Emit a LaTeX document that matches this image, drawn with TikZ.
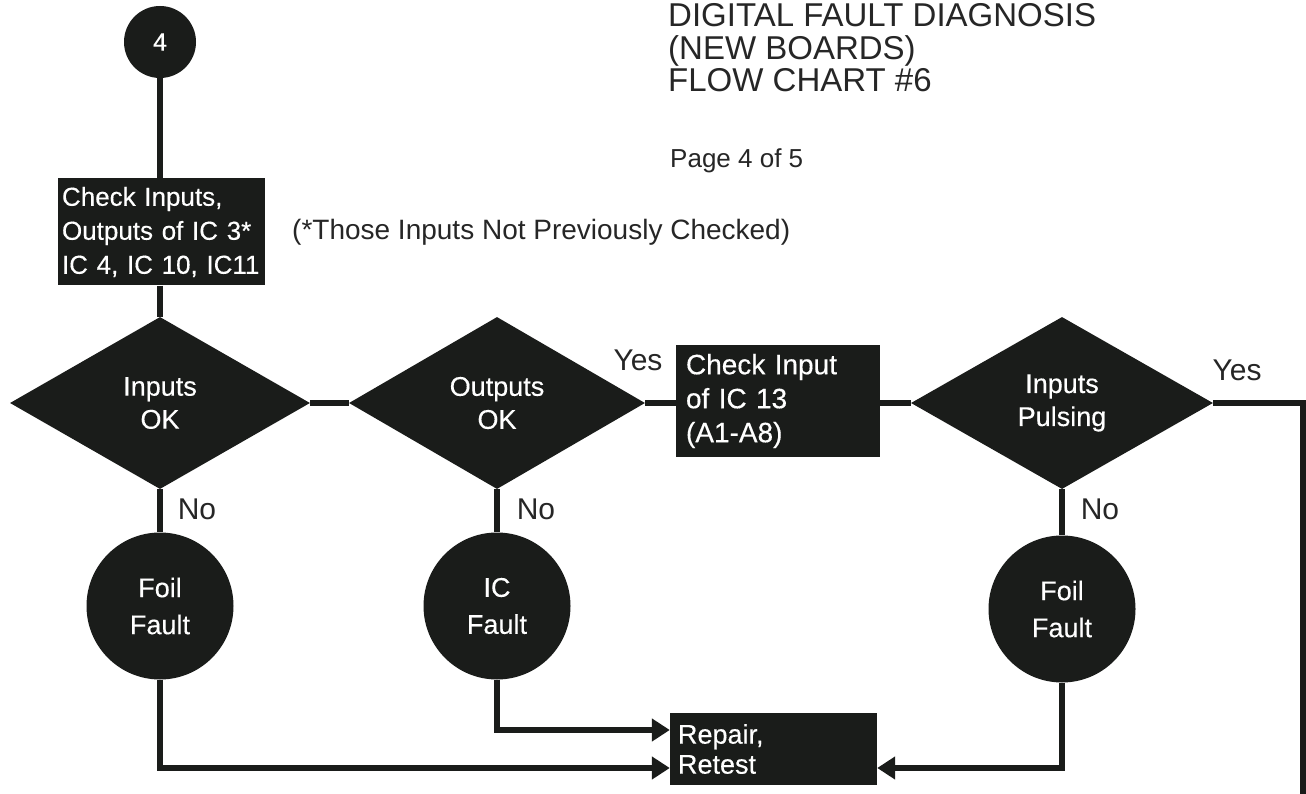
\documentclass[tikz,border=0pt]{standalone}
\usepackage{fontspec}
\setmainfont{Liberation Sans}
\newfontfamily\inkfont{Liberation Sans}[FakeBold=0.35]
\usetikzlibrary{shapes.geometric,arrows.meta,calc}
\definecolor{ink}{RGB}{26,28,26}
\definecolor{print}{RGB}{38,38,38}
\newcommand{\fs}[2]{\fontsize{#1}{#2}\selectfont}
\newcommand{\tightsp}{\spaceskip=3.5pt\relax}
\begin{document}
\begin{tikzpicture}[x=1pt,y=-1pt,
  box/.style={rectangle, fill=ink, text=white, inner sep=0pt, align=left},
  decision/.style={diamond, fill=ink, text=white, inner sep=0pt, align=center,
    minimum width=300pt, minimum height=172pt, font=\inkfont\fs{27}{33}},
  endpoint/.style={circle, fill=ink, text=white, inner sep=0pt, align=center,
    minimum size=147pt, font=\inkfont\fs{27}{37}},
  conn/.style={draw=ink, line width=6pt},
  arr/.style={conn, -{Triangle[length=18pt,width=22pt]}},
  answer/.style={text=print, inner sep=0pt, font=\fs{30}{32}},
  heading/.style={text=print, inner sep=0pt, anchor=base west},
]
\fill[white] (0,0) rectangle (1306,794);
\useasboundingbox (0,0) rectangle (1306,794);

% title block
\node[heading, font=\fs{33}{33}] (t1) at (668,27) {DIGITAL FAULT DIAGNOSIS};
\node[heading, font=\fs{33}{33}] (t2) at (668,60) {(NEW BOARDS)};
\node[heading, font=\fs{33}{33}] (t3) at (668,92) {FLOW CHART \#6};
\node[heading, font=\fs{26}{28}] (pg) at (670,168) {Page 4 of 5};
\node[heading, font=\fs{28}{30}] (note) at (292,240) {(*Those Inputs Not Previously Checked)};

% entry connector
\node[circle, fill=ink, text=white, inner sep=0pt, minimum size=72pt, font=\inkfont\fs{25}{28}] (c4) at (160,42) {4};

% process boxes
\node[box, minimum width=207pt, minimum height=107pt, text width=198pt,
      font=\inkfont\fs{26}{34}\tightsp] (chk1) at (161,232)
  {Check Inputs,\\Outputs of IC 3*\\IC 4, IC 10, IC11};
\node[box, minimum width=204pt, minimum height=112pt, text width=184pt, font=\inkfont\fs{28}{34}] (chk2) at (778,401)
  {Check Input\\of IC 13\\(A1-A8)};
\node[box, minimum width=207pt, minimum height=72pt, text width=191pt, font=\inkfont\fs{27}{30}] (rep) at (773.5,749)
  {Repair,\\Retest};

% decisions
\node[decision] (d1) at (160,403) {Inputs\\OK};
\node[decision, minimum width=296pt] (d2) at (497,403) {Outputs\\OK};
\node[decision, minimum width=302pt] (d3) at (1062,403) {Inputs\\Pulsing};

% terminal results
\node[endpoint] (f1) at (160,606) {Foil\\Fault};
\node[endpoint] (ic) at (497,606) {IC\\Fault};
\node[endpoint] (f3) at (1062,609) {Foil\\Fault};

% answer labels
\node[answer] (y1) at (638,360) {Yes};
\node[answer] (y2) at (1237,370) {Yes};
\node[answer] (n1) at (197,509) {No};
\node[answer] (n2) at (536,509) {No};
\node[answer] (n3) at (1100,509) {No};

% connectors
\coordinate (offpage) at (1303,797);
\draw[conn] (c4) -- (c4 |- chk1.north);
\draw[conn] (chk1.south -| d1.north) -- (d1.north);
\draw[conn] (d1.east) -- (d2.west);
\draw[conn] (d2.east) -- (chk2.west |- d2.east);
\draw[conn] (chk2.east |- d3.west) -- (d3.west);
\draw[conn] (d3.east) -| (offpage);
\draw[conn] (d1.south) -- (f1.north);
\draw[conn] (d2.south) -- (ic.north);
\draw[conn] (d3.south) -- (f3.north);
\draw[arr] (f1.south) |- ($(rep.west)+(0,19)$);
\draw[arr] (ic.south) |- ($(rep.west)+(0,-19)$);
\draw[arr] (f3.south) |- ($(rep.east)+(0,19)$);
\end{tikzpicture}
\end{document}
